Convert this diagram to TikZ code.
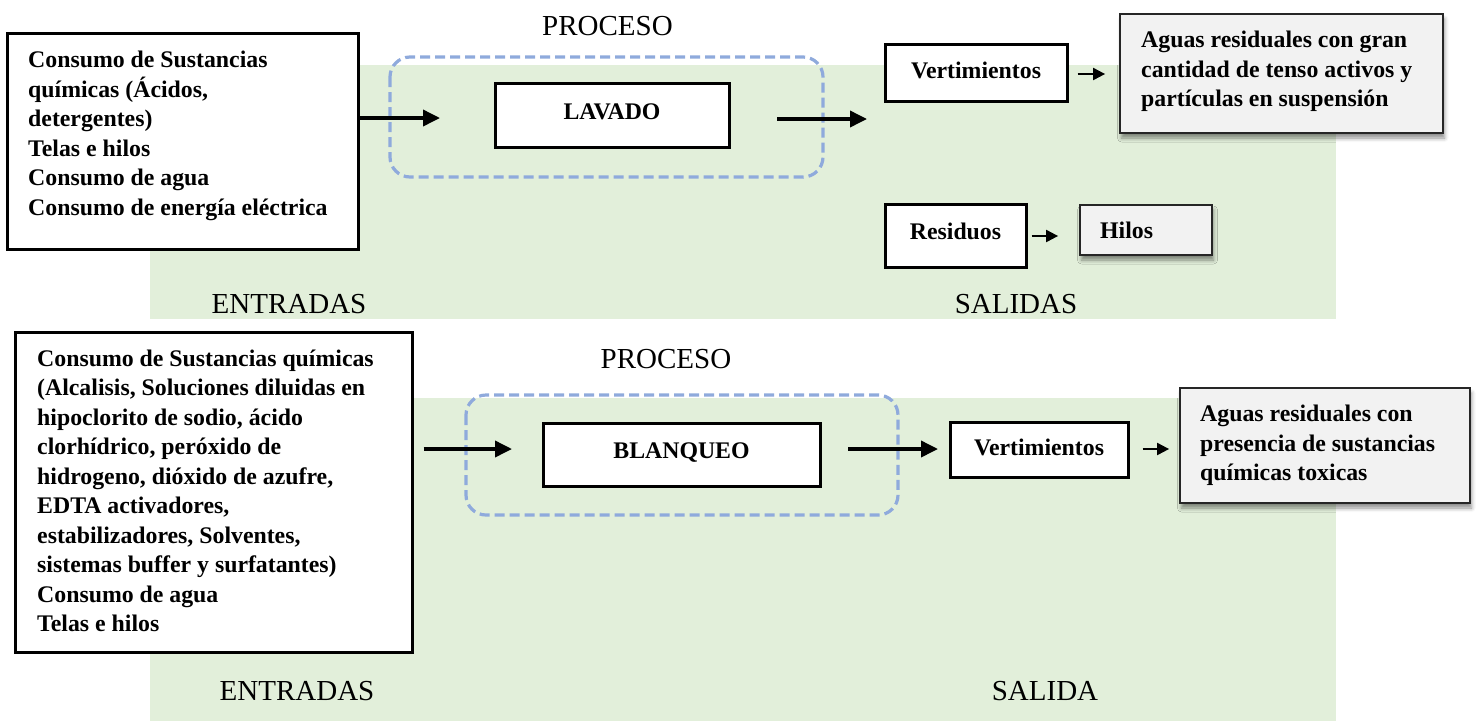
\documentclass[tikz,border=0pt]{standalone}
\usepackage{fontspec}
\setmainfont{Liberation Serif}
\usetikzlibrary{arrows.meta,shadows.blur,calc}

\definecolor{panelgreen}{HTML}{E2EFDA}
\definecolor{procblue}{HTML}{8FAADC}
\definecolor{outgray}{HTML}{F2F2F2}

\tikzset{
  boldtxt/.style={font=\fontsize{23.8}{29.5}\selectfont\bfseries},
  labeltxt/.style={font=\fontsize{29}{34}\selectfont, inner sep=0pt, anchor=base},
  panel/.style={fill=panelgreen, draw=none},
  inbox/.style={draw=black, line width=3pt, fill=white, inner sep=0pt},
  listtxt/.style={boldtxt, align=left, inner sep=0pt, anchor=north west},
  stepbox/.style={draw=black, line width=3pt, fill=white, inner sep=0pt, boldtxt,
    text height=16pt, text depth=8pt},
  lowstepbox/.style={stepbox, text depth=4pt},
  outbox/.style={draw=black!85, line width=1.8pt, fill=outgray, inner sep=0pt,
    blur shadow={shadow xshift=1.5pt, shadow yshift=-5pt, shadow blur radius=4pt,
      shadow opacity=45}},
  procframe/.style={draw=procblue, line width=3.2pt, dash pattern=on 10pt off 5pt,
    rounded corners=20pt},
  flow/.style={line width=3.6pt, -{Triangle[length=17pt,width=16pt]}},
  thinflow/.style={line width=2pt, -{Triangle[length=12pt,width=12pt]}},
}

\begin{document}
\begin{tikzpicture}[x=1pt, y=-1pt]
\useasboundingbox (0,0) rectangle (1480,721);

% ---------- LAVADO ----------
\fill[panel] (150,65) rectangle (1336,319);
\node[labeltxt] (proclab1) at (607.5,35) {PROCESO};
\node[labeltxt] (inlab1) at (289,313) {ENTRADAS};
\node[labeltxt] (outlab1) at (1016,313) {SALIDAS};

\node[inbox, minimum width=351pt, minimum height=216pt] (in1) at (182.5,141) {};
\node[listtxt] (in1t) at (28,51) {Consumo de Sustancias\\químicas (Ácidos,\\detergentes)\\Telas e hilos\\Consumo de agua\\Consumo de energía eléctrica};

\draw[procframe] (390,57) rectangle (823,177);
\node[stepbox, minimum width=234pt, minimum height=64pt] (lav) at (612,115) {LAVADO};

\coordinate (lavin) at (440,118);
\coordinate (lavoutA) at (777,119);
\coordinate (lavoutB) at (867,119);
\draw[flow] (in1.east |- lavin) -- (lavin);
\draw[flow] (lavoutA) -- (lavoutB);

\node[lowstepbox, minimum width=182pt, minimum height=57pt] (vert1) at (976,72.5) {Vertimientos};
\node[outbox, minimum width=323pt, minimum height=119pt] (agua1) at (1281.5,73.5) {};
\node[listtxt] (agua1t) at (1141,31) {Aguas residuales con gran\\cantidad de tenso activos y\\partículas en suspensión};
\draw[thinflow] ([xshift=9pt]vert1.east |- 0,74) -- ([xshift=-14pt]agua1.west |- 0,74);

\node[stepbox, minimum width=141pt, minimum height=63pt] (res) at (955.5,235.5) {Residuos};
\node[outbox, minimum width=132pt, minimum height=50pt] (hilos) at (1146,230) {};
\node[boldtxt, anchor=base west, inner sep=0pt] (hilost) at (1100,238) {Hilos};
\draw[thinflow] ([xshift=4pt]res.east |- 0,236) -- ([xshift=-21pt]hilos.west |- 0,236);

% ---------- BLANQUEO ----------
\fill[panel] (150,398) rectangle (1336,721);
\node[labeltxt] (proclab2) at (666,368) {PROCESO};
\node[labeltxt] (inlab2) at (297,700) {ENTRADAS};
\node[labeltxt] (outlab2) at (1045,700) {SALIDA};

\node[inbox, minimum width=397pt, minimum height=320pt] (in2) at (213.5,492) {};
\node[listtxt] (in2t) at (37,349.5) {Consumo de Sustancias químicas\\(Alcalisis, Soluciones diluidas en\\hipoclorito de sodio, ácido\\clorhídrico, peróxido de\\hidrogeno, dióxido de azufre,\\EDTA activadores,\\estabilizadores, Solventes,\\sistemas buffer y surfatantes)\\Consumo de agua\\Telas e hilos};

\draw[procframe] (466,395) rectangle (898,515);
\node[stepbox, minimum width=277pt, minimum height=63pt] (blq) at (681.5,454.5) {BLANQUEO};

\coordinate (blqin) at (512,449);
\coordinate (blqoutA) at (848,449);
\coordinate (blqoutB) at (938,449);
\draw[flow] ([xshift=10pt]in2.east |- blqin) -- (blqin);
\draw[flow] (blqoutA) -- (blqoutB);

\node[lowstepbox, minimum width=178pt, minimum height=55pt] (vert2) at (1039,449.5) {Vertimientos};
\node[outbox, minimum width=290pt, minimum height=115pt] (agua2) at (1325,445.5) {};
\node[listtxt] (agua2t) at (1200,405) {Aguas residuales con\\presencia de sustancias\\químicas toxicas};
\draw[thinflow] ([xshift=13pt]vert2.east |- 0,449) -- ([xshift=-10pt]agua2.west |- 0,449);
\end{tikzpicture}
\end{document}
